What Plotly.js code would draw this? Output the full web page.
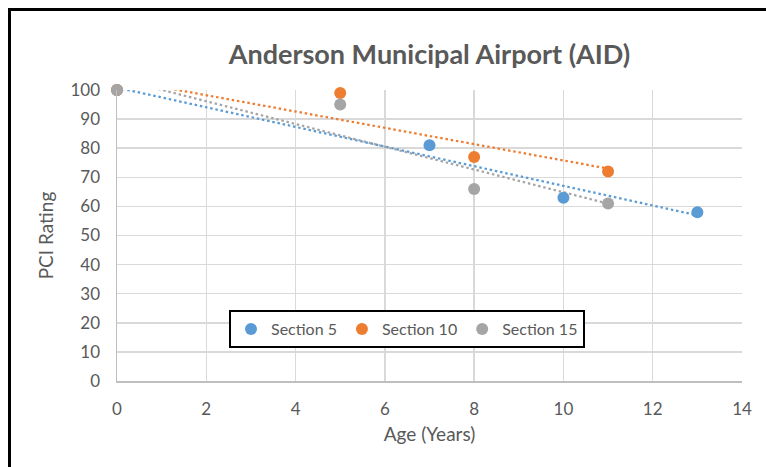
<!DOCTYPE html>
<html>
<head>
<meta charset="utf-8">
<script src="https://cdn.plot.ly/plotly-3.0.1.min.js"></script>
<style>
  body { margin: 0; background: #fff; }
  #frame { position: absolute; left: 8px; top: 8px; width: 758px; height: 459px;
           border-top: 3px solid #000; border-left: 3px solid #000; box-sizing: border-box; }
  #graph { position: absolute; left: 0; top: 0; width: 766px; height: 467px; }
</style>
</head>
<body>
<div id="frame"></div>
<div id="graph"></div>
<script>
// values
const sec5Age = [0, 7, 10, 13];
const sec5Pci = [100, 81, 63, 58];
const sec10Age = [0, 5, 8, 11];
const sec10Pci = [100, 99, 77, 72];
const sec15Age = [0, 5, 8, 11];
const sec15Pci = [100, 95, 66, 61];

const names = ["Section 5", "Section 10", "Section 15"];
const colors = ["#5b9bd5", "#ed7d31", "#a5a5a5"];

// linear least squares, like the Excel trendline
function fit(xs, ys) {
    let n = xs.length;
    let mx = xs.reduce((a, b) => a + b, 0) / n;
    let my = ys.reduce((a, b) => a + b, 0) / n;
    let sxy = 0, sxx = 0;
    for (let i = 0; i < n; i++) {
        sxy += (xs[i] - mx) * (ys[i] - my);
        sxx += (xs[i] - mx) * (xs[i] - mx);
    }
    let m = sxy / sxx;
    let b = my - m * mx;
    let x0 = Math.min(...xs), x1 = Math.max(...xs);
    return { x: [x0, x1], y: [b + m * x0, b + m * x1] };
}

const series = [[sec5Age, sec5Pci], [sec10Age, sec10Pci], [sec15Age, sec15Pci]];
let traces = [];

series.forEach((s, i) => {
    let t = fit(s[0], s[1]);
    traces.push({
        x: t.x, y: t.y, mode: 'lines', showlegend: false, hoverinfo: 'skip',
        line: { color: colors[i], width: 2.25, dash: '2.5px,2.8px' }
    });
});

series.forEach((s, i) => {
    traces.push({
        x: s[0], y: s[1], mode: 'markers', name: names[i], cliponaxis: false,
        marker: { color: colors[i], size: 12 }
    });
});

const font = "Lato, 'Open Sans', sans-serif";

let layout = {
    width: 766, height: 467,
    margin: { l: 117, r: 24, t: 90, b: 86 },
    paper_bgcolor: 'rgba(0,0,0,0)', plot_bgcolor: '#fff',
    font: { family: font, size: 17, color: '#595959' },
    title: {
        text: '<b>Anderson Municipal Airport (AID)</b>',
        font: { family: font, size: 27, color: '#595959' },
        x: 0.5, xref: 'paper', y: 1 - 55 / 467, yanchor: 'middle'
    },
    xaxis: {
        range: [0, 14], dtick: 2, tick0: 0,
        showgrid: true, gridcolor: '#d9d9d9', gridwidth: 1.5,
        showline: true, linecolor: '#bfbfbf', linewidth: 1.5,
        zeroline: false, ticks: '', ticklabelstandoff: 12,
        title: { text: 'Age (Years)', standoff: 10, font: { size: 19 } }
    },
    yaxis: {
        range: [0, 100], dtick: 10, tick0: 0,
        showgrid: true, gridcolor: '#d9d9d9', gridwidth: 1.5,
        showline: true, linecolor: '#bfbfbf', linewidth: 1.5,
        zeroline: false, ticks: '', ticklabelstandoff: 12,
        title: { text: 'PCI Rating', standoff: 12, font: { size: 19 } }
    },
    legend: {
        orientation: 'h', x: (229 - 117) / 625, y: (381 - 310) / 291,
        xanchor: 'left', yanchor: 'top',
        bgcolor: '#fff', bordercolor: '#000', borderwidth: 2,
        font: { family: font, size: 16, color: '#595959' },
        itemwidth: 30, tracegroupgap: 0
    },
    showlegend: true
};

Plotly.newPlot('graph', traces, layout, { displayModeBar: false, staticPlot: true });
</script>
</body>
</html>
